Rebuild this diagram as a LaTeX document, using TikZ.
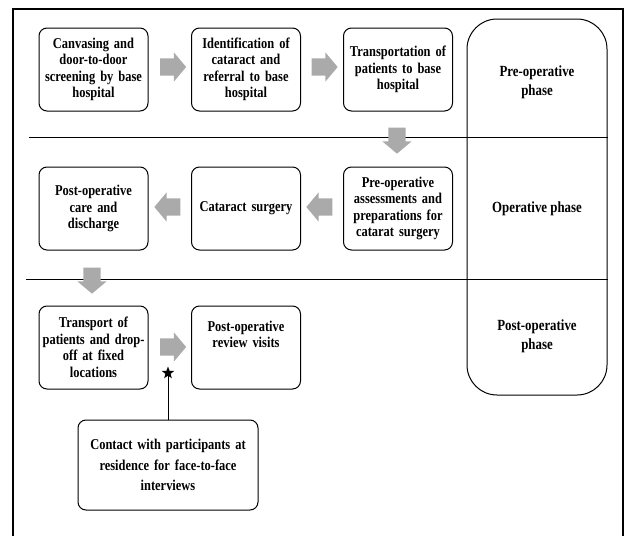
\documentclass[tikz,border=0pt]{standalone}
\usepackage{fontspec}
\setmainfont{Liberation Serif}[FakeStretch=0.83]
\usetikzlibrary{shapes.arrows,shapes.geometric}
\definecolor{arrowgray}{RGB}{170,170,170}
\tikzset{
  stage/.style={draw,line width=1pt,rounded corners=8pt,minimum width=109pt,
    minimum height=83pt,text width=104pt,align=center,inner sep=0pt,
    font=\bfseries\fontsize{15}{16.5}\selectfont},
  flow/.style={single arrow,fill=arrowgray,draw=none,inner sep=8.5pt,
    minimum width=29pt,minimum height=26pt,single arrow head extend=6pt,
    single arrow tip angle=100},
  phaselabel/.style={align=center,font=\bfseries\fontsize{15.5}{17}\selectfont}
}
\begin{document}
\begin{tikzpicture}[x=1pt,y=-1pt]
  \useasboundingbox (0,0) rectangle (625,536);
  \draw [line width=1.2pt] (13,545) -- (13,9) -- (623,9) -- (623,545);

  \node [draw,line width=1pt,rounded corners=30pt,minimum width=140pt,minimum height=376pt] (phases) at (537,207) {};
  \draw [line width=1pt] (29,137) -- (phases.east |- 0,137);
  \draw [line width=1pt] (26,279) -- (phases.east |- 0,279);
    \node [phaselabel] (pre) at (537,82) {Pre-operative\\[2pt]phase};
    \node [phaselabel] (op) at (537,209) {Operative phase};
    \node [phaselabel] (post) at (537,336) {Post-operative\\[2pt]phase};

  \node [stage] (canvas) at (93.5,69.5) {Canvasing and\\door-to-door\\screening by base\\hospital};
  \node [stage] (ident) at (246,69.5) {Identification of\\cataract and\\referral to base\\hospital};
  \node [stage] (transp) at (398,69.5) {Transportation of\\patients to base\\hospital};
  \node [stage] (assess) at (398,208.5) {Pre-operative\\assessments and\\preparations for\\catarat surgery};
  \node [stage] (surgery) at (246,208.5) {Cataract surgery};
  \node [stage] (care) at (93.5,208.5) {Post-operative\\care and\\discharge};
  \node [stage] (dropoff) at (93.5,347.5) {Transport of\\patients and drop-\\off at fixed\\locations};
  \node [stage] (review) at (246,347.5) {Post-operative\\review visits\\[10pt]\mbox{}};
  \node [stage,minimum width=180pt,minimum height=90pt,text width=178pt] (contact) at (168,465) {Contact with participants at\\[4pt]residence for face-to-face\\[4pt]interviews};

  \node [flow] (a1) at (169.5,67) {};
  \node [flow] (a2) at (321,67) {};
  \node [flow,shape border rotate=270] (a3) at (397,137) {};
  \node [flow,shape border rotate=180] (a4) at (323,207) {};
  \node [flow,shape border rotate=180] (a5) at (171,207) {};
  \node [flow,shape border rotate=270] (a6) at (92,277) {};
  \node [flow] (a7) at (169.5,347) {};

    \node [star,star points=5,star point ratio=2.4,fill,inner sep=0pt,minimum size=13pt] (tick) at (168,373) {};
    \draw [line width=0.8pt] (contact.north) -- (tick);
\end{tikzpicture}
\end{document}
